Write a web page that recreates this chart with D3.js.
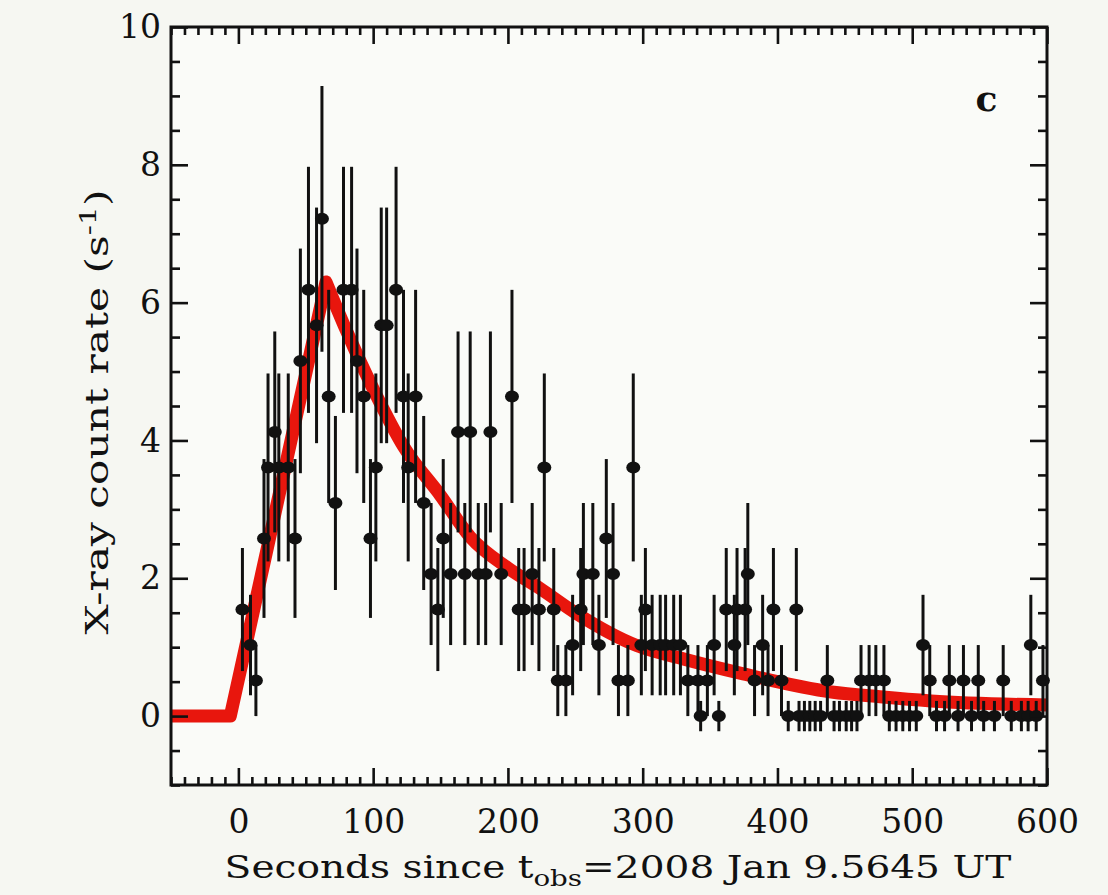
<!DOCTYPE html>
<html>
<head>
<meta charset="utf-8">
<script src="https://cdn.jsdelivr.net/npm/d3@7"></script>
<style>
  body { margin: 0; background: #f6f7f2; }
  svg { display: block; }
</style>
</head>
<body>
<div id="main"></div>
<script>
const ctx = {
    w: 1108,
    h: 895,
};

// bin start times (s) and photon counts
const times = [3, 9, 13, 19, 22, 27, 30, 37, 42, 46, 52, 58, 62, 67, 72, 78, 84, 88, 93, 98,
    102, 106, 110, 117, 122.5, 126, 131.5, 137.5, 143, 148, 152, 157.5, 163, 168, 172, 178, 183.5, 187, 195,
    203, 208, 212, 218, 223, 227, 234, 237, 243, 248, 254, 256, 263, 267.5, 273, 278, 282, 289, 293, 299,
    302, 307, 313, 317, 323, 328, 333.5, 341, 343, 348, 353, 356.5, 362, 368, 370, 376, 378, 383, 389, 393, 397,
    403, 408, 414, 416, 420, 424, 428, 432, 437, 442, 446, 451, 455, 459, 462, 468, 473, 479, 483, 488, 493, 498,
    503, 508, 513, 518, 524, 527.5, 534, 538, 544, 549, 553, 561, 567.5, 573.5, 581, 586, 588, 592, 597];
const counts = [3, 2, 1, 5, 7, 8, 7, 7, 5, 10, 12, 11, 14, 9, 6, 12, 12, 10, 9, 5,
    7, 11, 11, 12, 9, 7, 9, 6, 4, 3, 5, 4, 8, 4, 8, 4, 4, 8, 4,
    9, 3, 3, 4, 3, 7, 3, 1, 1, 2, 3, 4, 4, 2, 5, 4, 1, 1, 7, 2,
    3, 2, 2, 2, 2, 2, 1, 1, 0, 1, 2, 0, 3, 2, 3, 3, 4, 1, 2, 1, 3,
    1, 0, 3, 0, 0, 0, 0, 0, 1, 0, 0, 0, 0, 0, 1, 1, 1, 1, 0, 0, 0, 0,
    0, 2, 1, 0, 0, 1, 0, 1, 0, 1, 0, 0, 1, 0, 0, 0, 2, 0, 1];
const binSec = 1.94;     // one count per bin = 0.516 s^-1
const zeroErr = 0.22;    // bar drawn on empty bins

// fitted model (red): linear rise, then smooth decay
const riseT = [-50, -6, 65];
const riseRate = [0, 0, 6.3];
const decayT = [65, 80, 100, 123, 150, 172, 200, 224, 250, 296, 330, 373, 440, 476, 514, 600];
const decayRate = [6.3, 5.6, 4.75, 3.9, 3.2, 2.6, 2.15, 1.85, 1.5, 1.02, 0.83, 0.62, 0.35, 0.28, 0.22, 0.16];

const xTickLabels = [0, 100, 200, 300, 400, 500, 600];
const yTickLabels = [0, 2, 4, 6, 8, 10];
const xTitle = ["Seconds since t", "obs", "=2008 Jan 9.5645 UT"];
const yTitle = ["X-ray count rate (s", "-1", ")"];
const panelLabel = "c";

const frame = {left: 171, right: 1047, top: 27, bottom: 785};
const fontFam = "'DejaVu Serif', 'Liberation Serif', serif";

function drawAxes(svgEl, x, y) {
    var minorX = d3.range(-50, 601, 10).filter(d => d % 100 !== 0);
    var minorY = d3.range(-1, 10.01, 0.5).filter(d => d % 2 !== 0);

    const axes = [
        {gen: d3.axisBottom(x).tickValues(xTickLabels).tickSize(-17).tickPadding(25).tickFormat(d3.format("d")), t: `translate(0,${frame.bottom})`},
        {gen: d3.axisBottom(x).tickValues(minorX).tickSize(-8).tickFormat(""), t: `translate(0,${frame.bottom})`},
        {gen: d3.axisTop(x).tickValues(xTickLabels).tickSize(-17).tickFormat(""), t: `translate(0,${frame.top})`},
        {gen: d3.axisTop(x).tickValues(minorX).tickSize(-8).tickFormat(""), t: `translate(0,${frame.top})`},
        {gen: d3.axisLeft(y).tickValues(yTickLabels).tickSize(-17).tickPadding(10).tickFormat(d3.format("d")), t: `translate(${frame.left},0)`},
        {gen: d3.axisLeft(y).tickValues(minorY).tickSize(-9).tickFormat(""), t: `translate(${frame.left},0)`},
        {gen: d3.axisRight(y).tickValues(yTickLabels).tickSize(-17).tickFormat(""), t: `translate(${frame.right},0)`},
        {gen: d3.axisRight(y).tickValues(minorY).tickSize(-9).tickFormat(""), t: `translate(${frame.right},0)`},
    ];

    axes.forEach(a => {
        const g = svgEl.append("g").attr("transform", a.t).call(a.gen);
        g.select(".domain").remove();
        g.selectAll(".tick line").attr("stroke", "#111").attr("stroke-width", 2.6);
        g.selectAll(".tick text")
            .attr("fill", "#111")
            .style("font-family", fontFam)
            .style("font-size", "33px");
    });

    svgEl.append("rect")
        .attr("x", frame.left)
        .attr("y", frame.top)
        .attr("width", frame.right - frame.left)
        .attr("height", frame.bottom - frame.top)
        .attr("fill", "none")
        .attr("stroke", "#111")
        .attr("stroke-width", 3);
}

// the original lettering is wide and low: stretch the title along its line
function stretchTo(textSel, place, target) {
    const len = textSel.node().getComputedTextLength();
    textSel.attr("transform", `${place} scale(${target / len},1)`);
}

function drawLabels(svgEl, x, y) {
    const xl = svgEl.append("text")
        .attr("text-anchor", "middle")
        .style("font-family", fontFam)
        .style("font-size", "31px")
        .attr("fill", "#111");
    xl.append("tspan").text(xTitle[0]);
    xl.append("tspan").attr("dy", 8).style("font-size", "22px").text(xTitle[1]);
    xl.append("tspan").attr("dy", -8).text(xTitle[2]);
    stretchTo(xl, "translate(618,878)", 787);

    const yl = svgEl.append("text")
        .attr("text-anchor", "middle")
        .style("font-family", fontFam)
        .style("font-size", "31px")
        .attr("fill", "#111");
    yl.append("tspan").text(yTitle[0]);
    yl.append("tspan").attr("dy", -12).style("font-size", "22px").text(yTitle[1]);
    yl.append("tspan").attr("dy", 12).text(yTitle[2]);
    stretchTo(yl, "translate(108,412) rotate(-90)", 445);

    svgEl.append("text")
        .attr("x", x(555))
        .attr("y", y(8.78))
        .attr("text-anchor", "middle")
        .style("font-family", fontFam)
        .style("font-size", "36px")
        .style("font-weight", "bold")
        .attr("fill", "#111")
        .text(panelLabel);
}

function createViz() {
    let svgEl = d3.select("#main").append("svg")
        .attr("width", ctx.w)
        .attr("height", ctx.h);

    svgEl.append("rect")
        .attr("x", frame.left).attr("y", frame.top)
        .attr("width", frame.right - frame.left)
        .attr("height", frame.bottom - frame.top)
        .attr("fill", "#fafbf8");

    var x = d3.scaleLinear().domain([-50, 600]).range([frame.left, frame.right]);
    var y = d3.scaleLinear().domain([-1, 10]).range([frame.bottom, frame.top]);

    const data = times.map((t, i) => {
        const n = counts[i];
        return {
            t: t,
            rate: n / binSec,
            err: n > 0 ? Math.sqrt(n) / binSec : zeroErr
        };
    });

    // model curve underneath the points: straight rise, smooth decay
    const rise = riseT.map((t, i) => ({t: t, r: riseRate[i]}));
    const decay = decayT.map((t, i) => ({t: t, r: decayRate[i]}));
    const lineLin = d3.line().x(d => x(d.t)).y(d => y(d.r));
    const lineSmooth = d3.line().x(d => x(d.t)).y(d => y(d.r)).curve(d3.curveMonotoneX);
    const decayPath = lineSmooth(decay).replace(/^M[^C]*/, "");
    svgEl.append("path")
        .attr("fill", "none")
        .attr("stroke", "#e8160d")
        .attr("stroke-width", 13)
        .attr("stroke-linejoin", "round")
        .attr("d", lineLin(rise) + decayPath);

    const pts = svgEl.append("g");
    pts.selectAll(".err")
        .data(data)
        .enter().append("line")
        .attr("class", "err")
        .attr("x1", d => x(d.t))
        .attr("x2", d => x(d.t))
        .attr("y1", d => y(d.rate - d.err))
        .attr("y2", d => y(d.rate + d.err))
        .attr("stroke", "#111")
        .attr("stroke-width", 3);

    pts.selectAll(".dot")
        .data(data)
        .enter().append("ellipse")
        .attr("class", "dot")
        .attr("cx", d => x(d.t))
        .attr("cy", d => y(d.rate))
        .attr("rx", 7)
        .attr("ry", 6)
        .attr("fill", "#111");

    drawAxes(svgEl, x, y);
    drawLabels(svgEl, x, y);
}

createViz();
</script>
</body>
</html>
